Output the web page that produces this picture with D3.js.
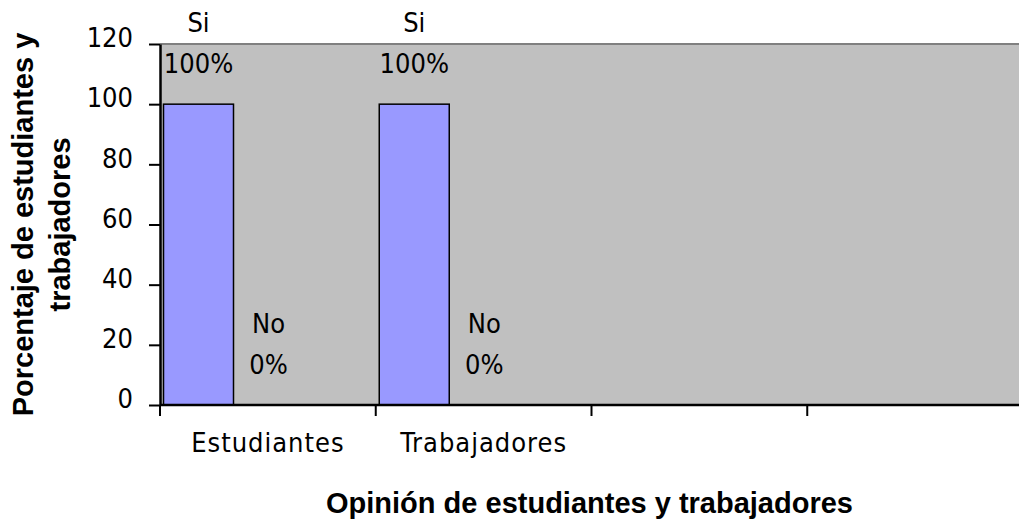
<!DOCTYPE html>
<html>
<head>
<meta charset="utf-8">
<script src="https://cdn.jsdelivr.net/npm/d3@7"></script>
<style>
  body { margin: 0; background: #fff; }
  .lbl { font-family: "DejaVu Sans Condensed", "DejaVu Sans", sans-serif; font-stretch: condensed; font-size: 27px; fill: #000; }
  .ttl { font-family: "Liberation Sans", Arial, sans-serif; font-weight: bold; font-size: 29px; fill: #000; }
</style>
</head>
<body>
<div id="chart"></div>
<script>
// chart values
const categories = ["Estudiantes", "Trabajadores", "", ""];
const seriesNames = ["Si", "No"];
const siValues = [100, 100, null, null];
const noValues = [0, 0, null, null];
const yTicks = [0, 20, 40, 60, 80, 100, 120];

const width = 1019, height = 520;
const plot = { left: 160, top: 44, right: 1023, bottom: 405 };

const svg = d3.select("#chart").append("svg")
    .attr("width", width)
    .attr("height", height);

const x = d3.scaleBand()
    .domain(d3.range(categories.length))
    .range([plot.left, plot.right]);

// the two bars sit at the left of each category slot
const xInner = d3.scaleBand()
    .domain(seriesNames)
    .range([3.5, 143.5]);

const y = d3.scaleLinear()
    .domain([0, 120])
    .range([plot.bottom, plot.top]);

// plot background
svg.append("rect")
    .attr("x", plot.left)
    .attr("y", plot.top)
    .attr("width", plot.right - plot.left)
    .attr("height", plot.bottom - plot.top)
    .attr("fill", "#c0c0c0");

svg.append("line")
    .attr("x1", plot.left).attr("x2", plot.right)
    .attr("y1", plot.top).attr("y2", plot.top)
    .attr("stroke", "#808080")
    .attr("stroke-width", 2);

// flatten into bars
const bars = [];
categories.forEach((c, i) => {
  if (siValues[i] != null) bars.push({ cat: i, s: "Si", v: siValues[i] });
  if (noValues[i] != null) bars.push({ cat: i, s: "No", v: noValues[i] });
});

svg.selectAll(".bar")
    .data(bars.filter(d => d.v > 0))
    .enter().append("rect")
    .attr("class", "bar")
    .attr("x", d => x(d.cat) + xInner(d.s))
    .attr("y", d => y(d.v))
    .attr("width", xInner.bandwidth())
    .attr("height", d => y(0) - y(d.v))
    .attr("fill", "#9999ff")
    .attr("stroke", "#000")
    .attr("stroke-width", 1.5);

// data labels: series name and value
const lab = svg.selectAll(".dlab")
    .data(bars)
    .enter().append("g")
    .attr("class", "dlab")
    .attr("transform", d => `translate(${x(d.cat) + xInner(d.s) + xInner.bandwidth() / 2},${y(d.v)})`);

lab.append("text")
    .attr("class", "lbl")
    .attr("text-anchor", "middle")
    .attr("y", -72)
    .text(d => d.s);

lab.append("text")
    .attr("class", "lbl")
    .attr("text-anchor", "middle")
    .attr("y", -31)
    .text(d => d.v + "%");

// y axis
const yAxis = svg.append("g")
    .attr("transform", `translate(${plot.left},0)`)
    .call(d3.axisLeft(y).tickValues(yTicks).tickSize(11).tickSizeOuter(0).tickPadding(16));
yAxis.select(".domain").attr("stroke", "#000").attr("stroke-width", 2.5);
yAxis.selectAll(".tick line").attr("stroke", "#000").attr("stroke-width", 2);
yAxis.selectAll(".tick text")
    .attr("class", "lbl")
    .attr("dy", "0.1em")
    .style("font-size", null).style("font-family", null);
yAxis.attr("font-size", null).attr("font-family", null);

// x axis
const xAxis = svg.append("g")
    .attr("transform", `translate(0,${plot.bottom})`)
    .call(d3.axisBottom(x).tickSize(0).tickPadding(28).tickFormat(i => categories[i]));
xAxis.attr("font-size", null).attr("font-family", null);
xAxis.select(".domain").remove();
xAxis.selectAll(".tick text").attr("class", "lbl").style("letter-spacing", "1px");

svg.append("line")
    .attr("x1", plot.left).attr("x2", plot.right)
    .attr("y1", plot.bottom).attr("y2", plot.bottom)
    .attr("stroke", "#000").attr("stroke-width", 2.5);

svg.selectAll(".xtick")
    .data(d3.range(categories.length))
    .enter().append("line")
    .attr("class", "xtick")
    .attr("x1", d => x(d)).attr("x2", d => x(d))
    .attr("y1", plot.bottom).attr("y2", plot.bottom + 11)
    .attr("stroke", "#000").attr("stroke-width", 2);

// axis titles
svg.append("text")
    .attr("class", "ttl")
    .attr("text-anchor", "middle")
    .attr("x", (plot.left + 1019) / 2)
    .attr("y", 513)
    .text("Opinión de estudiantes y trabajadores");

const yt = svg.append("text")
    .attr("class", "ttl")
    .attr("text-anchor", "middle")
    .attr("transform", `translate(33,${(plot.top + plot.bottom) / 2}) rotate(-90)`);
yt.append("tspan").attr("x", 0).attr("y", 0).text("Porcentaje de estudiantes y");
yt.append("tspan").attr("x", 0).attr("y", 37).text("trabajadores");
</script>
</body>
</html>
